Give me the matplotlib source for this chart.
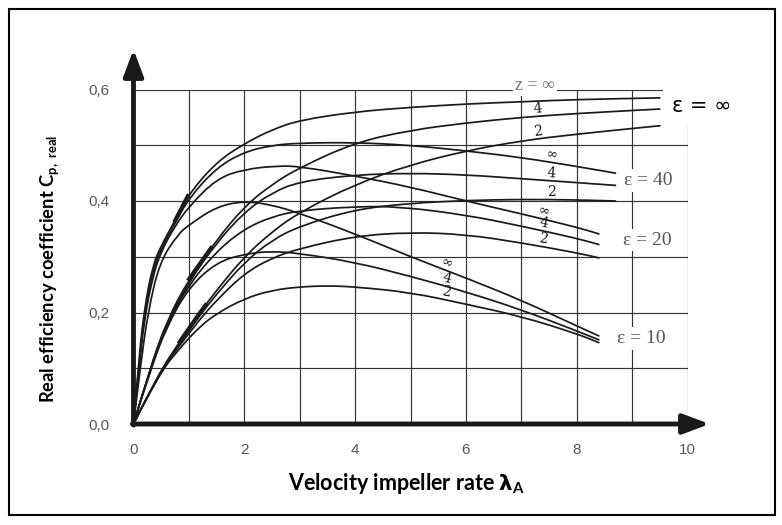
import numpy as np
import matplotlib.pyplot as plt
from matplotlib.patches import Rectangle, PathPatch
from matplotlib.path import Path

# values: tip speed ratio lambda_A and real Cp
# glide ratio eps = infinity
lam_inf_zinf = [0, 0.1, 0.2, 0.35, 0.5, 0.75, 1, 1.5, 2, 2.5, 3, 4, 5, 6, 7, 8, 9.5]
cp_inf_zinf = [0, 0.12, 0.21, 0.285, 0.32, 0.365, 0.413, 0.47, 0.503, 0.528, 0.545, 0.56, 0.568, 0.574, 0.578, 0.582, 0.585]
lam_inf_z4 = [0, 0.3, 0.6, 1, 1.5, 2, 2.5, 3, 4, 5, 6, 7, 8, 9.5]
cp_inf_z4 = [0, 0.1, 0.185, 0.26, 0.33, 0.39, 0.43, 0.46, 0.505, 0.527, 0.54, 0.55, 0.557, 0.565]
lam_inf_z2 = [0, 0.45, 0.85, 1.2, 1.5, 2, 2.5, 3, 4, 5, 6, 7, 8, 9.5]
cp_inf_z2 = [0, 0.09, 0.15, 0.2, 0.24, 0.3, 0.345, 0.38, 0.43, 0.465, 0.49, 0.508, 0.52, 0.535]

# eps = 40
lam_40_zinf = [0, 0.1, 0.2, 0.35, 0.5, 0.75, 1, 1.5, 2, 2.5, 3, 4, 5, 6, 7, 8, 8.7]
cp_40_zinf = [0, 0.11, 0.2, 0.275, 0.315, 0.36, 0.405, 0.46, 0.488, 0.5, 0.504, 0.505, 0.5, 0.49, 0.478, 0.462, 0.45]
lam_40_z4 = [0, 0.3, 0.6, 1, 1.5, 2, 2.5, 3, 4, 5, 6, 7, 8, 8.7]
cp_40_z4 = [0, 0.1, 0.18, 0.255, 0.325, 0.38, 0.415, 0.435, 0.447, 0.45, 0.447, 0.44, 0.433, 0.428]
lam_40_z2 = [0, 0.45, 0.85, 1.2, 1.5, 2, 2.5, 3, 4, 5, 6, 7, 8, 8.7]
cp_40_z2 = [0, 0.09, 0.147, 0.195, 0.233, 0.29, 0.33, 0.355, 0.385, 0.396, 0.401, 0.403, 0.402, 0.40]

# eps = 20
lam_20_zinf = [0, 0.1, 0.2, 0.35, 0.5, 0.75, 1, 1.5, 2, 2.6, 3, 4, 5, 6, 7, 8, 8.4]
cp_20_zinf = [0, 0.1, 0.19, 0.265, 0.31, 0.355, 0.39, 0.44, 0.457, 0.463, 0.462, 0.445, 0.425, 0.40, 0.377, 0.353, 0.341]
lam_20_z4 = [0, 0.3, 0.6, 1, 1.5, 2, 2.5, 3, 4, 4.8, 6, 7, 8, 8.4]
cp_20_z4 = [0, 0.1, 0.18, 0.25, 0.31, 0.35, 0.372, 0.383, 0.39, 0.39, 0.375, 0.355, 0.333, 0.322]
lam_20_z2 = [0, 0.45, 0.85, 1.2, 1.5, 2, 2.5, 3, 4, 5, 6, 7, 8, 8.4]
cp_20_z2 = [0, 0.09, 0.143, 0.188, 0.222, 0.27, 0.298, 0.315, 0.337, 0.344, 0.34, 0.325, 0.307, 0.298]

# eps = 10
lam_10_zinf = [0, 0.12, 0.26, 0.47, 0.8, 1, 1.5, 2, 2.5, 3, 4, 5, 6, 7, 8, 8.4]
cp_10_zinf = [0, 0.1, 0.2, 0.29, 0.34, 0.357, 0.39, 0.40, 0.393, 0.378, 0.341, 0.30, 0.262, 0.222, 0.176, 0.158]
lam_10_z4 = [0, 0.3, 0.6, 1, 1.5, 2, 2.5, 3, 4, 5, 6, 7, 8, 8.4]
cp_10_z4 = [0, 0.095, 0.175, 0.245, 0.29, 0.305, 0.31, 0.306, 0.29, 0.265, 0.237, 0.205, 0.167, 0.151]
lam_10_z2 = [0, 0.45, 0.85, 1.2, 1.5, 2, 2.5, 3, 3.5, 4, 5, 6, 7, 8, 8.4]
cp_10_z2 = [0, 0.088, 0.138, 0.175, 0.198, 0.225, 0.24, 0.246, 0.248, 0.246, 0.236, 0.215, 0.193, 0.162, 0.146]

blade_labels = ["\u221e", "4", "2"]
eps_labels = ["\u03b5 = 40", "\u03b5 = 20", "\u03b5 = 10"]
x_ticks = [0, 2, 4, 6, 8, 10]
y_ticks = [0.0, 0.2, 0.4, 0.6]
y_tick_labels = ["0,0", "0,2", "0,4", "0,6"]

families = [
    [(lam_inf_zinf, cp_inf_zinf), (lam_inf_z4, cp_inf_z4), (lam_inf_z2, cp_inf_z2)],
    [(lam_40_zinf, cp_40_zinf), (lam_40_z4, cp_40_z4), (lam_40_z2, cp_40_z2)],
    [(lam_20_zinf, cp_20_zinf), (lam_20_z4, cp_20_z4), (lam_20_z2, cp_20_z2)],
    [(lam_10_zinf, cp_10_zinf), (lam_10_z4, cp_10_z4), (lam_10_z2, cp_10_z2)],
]


def smooth_path(x, y):
    # quadratic bezier through the read points, drawn by matplotlib itself
    pts = np.column_stack([x, y])
    verts = [pts[0]]
    codes = [Path.MOVETO]
    for i in range(1, len(pts) - 1):
        verts += [pts[i], (pts[i] + pts[i + 1]) / 2]
        codes += [Path.CURVE3, Path.CURVE3]
    verts.append(pts[-1])
    codes.append(Path.LINETO)
    return Path(verts, codes)


fig = plt.figure(figsize=(7.82, 5.25), dpi=100)
ax = fig.add_axes([133.5 / 782, 101 / 525, 554 / 782, 334.5 / 525])
ax.set_xlim(0, 10)
ax.set_ylim(0, 0.6)
for s in ax.spines.values():
    s.set_visible(False)

# grid of the scanned chart
grid_col = "#333333"
ax.vlines(range(1, 11), 0, 0.6, color=grid_col, lw=0.85, zorder=1)
ax.hlines([0.1, 0.2, 0.3, 0.4, 0.5, 0.6], 0, 10, color=grid_col, lw=0.85, zorder=1)

# curves
for fam in families:
    for lam, cp in fam:
        ax.add_patch(PathPatch(smooth_path(lam, cp), fill=False, ec="#1a1a1a",
                               lw=1.25, zorder=2, capstyle="round"))

# thick marks near the start of the eps = inf curves
for (lam, cp), (a, b) in zip(families[0], [(0.75, 0.98), (1.0, 1.4), (0.83, 1.3)]):
    xs = np.linspace(a, b, 10)
    ax.plot(xs, np.interp(xs, lam, cp), color="#1a1a1a", lw=2.8, zorder=2)


def slope_angle(lam, cp, x):
    p1 = ax.transData.transform((x - 0.3, np.interp(x - 0.3, lam, cp)))
    p2 = ax.transData.transform((x + 0.3, np.interp(x + 0.3, lam, cp)))
    return np.degrees(np.arctan2(p2[1] - p1[1], p2[0] - p1[0]))


# small blade-number labels along the curves
label_x = [7.3, 7.55, 7.4, 5.65]
for k, (fam, lx) in enumerate(zip(families, label_x)):
    for i, ((lam, cp), txt) in enumerate(zip(fam, blade_labels)):
        if k == 0 and i == 0:
            continue
        ax.annotate(txt, xy=(lx, np.interp(lx, lam, cp)), xytext=(0, 5.5),
                    textcoords="offset points", ha="center", va="center",
                    rotation=slope_angle(lam, cp, lx), fontsize=10,
                    family="DejaVu Serif", color="#1a1a1a", zorder=4)

ax.text(7.25, 0.607, "z = \u221e", ha="center", va="center", fontsize=13,
        family="Liberation Serif", color="#777777", zorder=4,
        bbox=dict(fc="white", ec="none", pad=1.5))

# eps labels at the end of the curve families
for txt, (tx, ty) in zip(eps_labels, [(9.3, 0.437), (9.27, 0.33), (9.16, 0.153)]):
    ax.text(tx, ty, txt, ha="center", va="center", fontsize=14,
            family="Liberation Serif", color="#555555", zorder=4,
            bbox=dict(fc="white", ec="none", pad=2))

ax.add_patch(Rectangle((9.55, 0.535), 1.35, 0.14, fc="white", ec="none",
                       zorder=3, clip_on=False))
ax.text(10.25, 0.57, "\u03b5 = \u221e", ha="center", va="center", fontsize=15,
        family="DejaVu Sans", color="black", zorder=5, clip_on=False)

# axis arrows
arrow = dict(arrowstyle="-|>,head_length=0.8,head_width=0.3", lw=3.5,
             color="#1a1a1a", mutation_scale=20, shrinkA=0, shrinkB=0)
ax.annotate("", xy=(0, 0.672), xytext=(0, -0.002), arrowprops=arrow,
            annotation_clip=False, zorder=6)
ax.annotate("", xy=(10.4, 0), xytext=(-0.02, 0), arrowprops=arrow,
            annotation_clip=False, zorder=6)

ax.set_xticks(x_ticks, [str(t) for t in x_ticks])
ax.set_yticks(y_ticks, y_tick_labels)
ax.tick_params(length=0, labelsize=11, labelcolor="#555555")
ax.tick_params(axis="y", pad=17)
ax.tick_params(axis="x", pad=14)
for lab in ax.get_xticklabels() + ax.get_yticklabels():
    lab.set_family("Liberation Sans")

fig.text(407 / 782, 1 - 484 / 525, r"Velocity impeller rate $\mathbf{\lambda}_\mathregular{A}$",
         ha="center", va="center", fontsize=15.5, family="Lato", weight="bold")
fig.text(50 / 782, 1 - 269 / 525, r"Real efficiency coefficient C$_\mathregular{p,\ real}$",
         ha="center", va="center", fontsize=13.2, family="Lato", weight="bold",
         rotation=90)

# frame round the whole picture
fig.add_artist(Rectangle((9 / 782, 10 / 525), 766 / 782, 506 / 525,
                         transform=fig.transFigure, fill=False, lw=1.5, ec="black"))

fig.savefig("out.png", dpi=100)
